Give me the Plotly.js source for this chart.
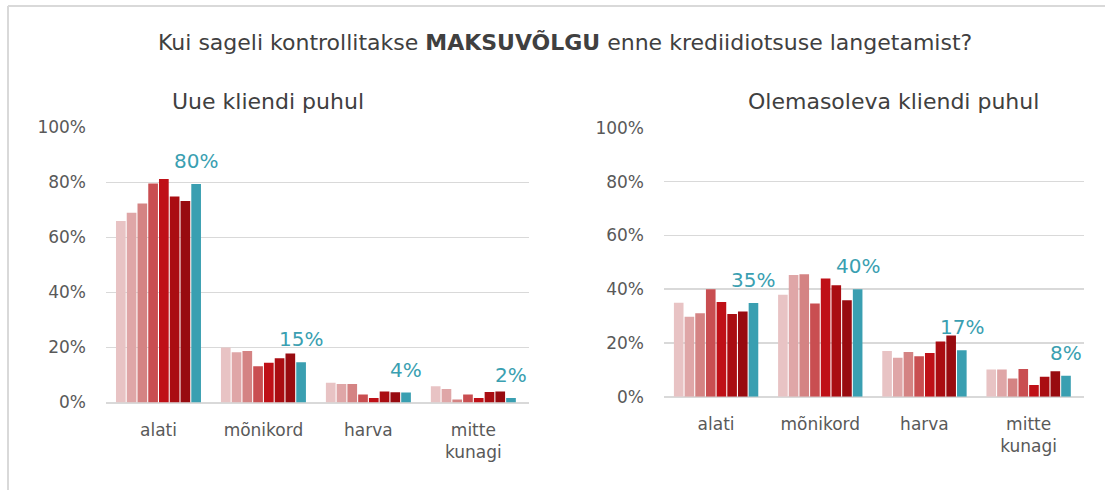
<!DOCTYPE html>
<html>
<head>
<meta charset="utf-8">
<script src="https://cdn.plot.ly/plotly-3.0.1.min.js"></script>
<style>html,body{margin:0;padding:0;background:#fff;}#chart{width:1105px;height:490px;}</style>
</head>
<body>
<div id="chart"></div>
<script>
// ---- data ----
const categories = ['alati', 'mõnikord', 'harva', 'mitte<br>kunagi'];
const seriesNames = ['S1', 'S2', 'S3', 'S4', 'S5', 'S6', 'S7', 'S8'];
// Uue kliendi puhul (new client), % per category
const newClient = [
  [66, 20, 7.2, 5.9],
  [69, 18.3, 6.7, 4.9],
  [72.4, 18.7, 6.7, 1.1],
  [79.6, 13.2, 2.9, 2.9],
  [81.3, 14.5, 1.6, 1.6],
  [74.9, 16.1, 4.0, 3.8],
  [73.3, 17.8, 3.7, 4.0],
  [79.5, 14.6, 3.6, 1.6]
];
// Olemasoleva kliendi puhul (existing client)
const existingClient = [
  [35.0, 37.9, 17.0, 10.1],
  [29.8, 45.3, 14.5, 10.1],
  [31.1, 45.6, 16.6, 6.8],
  [40.0, 34.7, 15.1, 10.3],
  [35.2, 44.0, 16.3, 4.4],
  [30.8, 41.5, 20.5, 7.4],
  [31.7, 35.9, 22.8, 9.5],
  [34.9, 40.0, 17.3, 7.8]
];
const colors = ['#E8C3C4', '#DFA6A7', '#D48383', '#C94E51', '#BF1017', '#AA0D12', '#980B10', '#3A9FB1'];
const mainTitle = 'Kui sageli kontrollitakse <b>MAKSUVÕLGU</b> enne krediidiotsuse langetamist?';
const subTitles = ['Uue kliendi puhul', 'Olemasoleva kliendi puhul'];

// ---- figure ----
const W = 1105, H = 490;
const FONT = 'DejaVu Sans, sans-serif';
const txtColor = '#595959';
const bargap = 0.18;
const traces = [];
[newClient, existingClient].forEach((set, p) => {
  set.forEach((vals, i) => {
    traces.push({
      type: 'bar', x: categories, y: vals, name: seriesNames[i],
      xaxis: p === 0 ? 'x' : 'x2', yaxis: p === 0 ? 'y' : 'y2',
      marker: {color: colors[i], line: {width: 0}},
      showlegend: false, hoverinfo: 'y'
    });
  });
});

const annotations = [];
const groupW = 1 - bargap;
const tealOffset = -groupW / 2 + (7 + 0.5) * groupW / 8;
[newClient, existingClient].forEach((set, p) => {
  const teal = set[7];
  teal.forEach((v, c) => {
    annotations.push({
      xref: p === 0 ? 'x' : 'x2', yref: p === 0 ? 'y' : 'y2',
      x: c + tealOffset, y: v, text: Math.round(v) + '%',
      showarrow: false, yanchor: 'bottom', yshift: 9,
      font: {family: FONT, size: 20, color: colors[7]}
    });
  });
});
annotations.push({xref: 'paper', yref: 'paper', x: 565 / W, y: 1 - 42 / H, text: mainTitle,
  showarrow: false, xanchor: 'center', yanchor: 'middle', font: {family: FONT, size: 22, color: '#404040'}});
annotations.push({xref: 'paper', yref: 'paper', x: 268 / W, y: 1 - 101 / H, text: subTitles[0],
  showarrow: false, xanchor: 'center', yanchor: 'middle', font: {family: FONT, size: 22, color: '#404040'}});
annotations.push({xref: 'paper', yref: 'paper', x: 893 / W, y: 1 - 101 / H, text: subTitles[1],
  showarrow: false, xanchor: 'center', yanchor: 'middle', font: {family: FONT, size: 22, color: '#404040'}});

const yax = (dom) => ({
  domain: dom, range: [0, 100], dtick: 20, ticksuffix: '%',
  showgrid: true, gridcolor: '#d9d9d9', gridwidth: 1.5,
  zeroline: true, zerolinecolor: '#d9d9d9', zerolinewidth: 2,
  showline: false, ticklabelstandoff: 19,
  tickfont: {family: FONT, size: 17, color: txtColor}, fixedrange: true
});
const xax = (dom, anchor) => ({
  domain: dom, anchor: anchor, type: 'category', showline: false, ticks: '',
  tickfont: {family: FONT, size: 17, color: txtColor}, ticklabelstandoff: 15, fixedrange: true
});

const layout = {
  width: W, height: H, margin: {l: 0, r: 0, t: 0, b: 0},
  paper_bgcolor: '#ffffff', plot_bgcolor: '#ffffff',
  barmode: 'group', bargap: bargap, bargroupgap: 0.1,
  xaxis: xax([106 / W, 529 / W], 'y'),
  yaxis: yax([1 - 402.5 / H, 1 - 127.5 / H]),
  xaxis2: xax([664 / W, 1084 / W], 'y2'),
  yaxis2: Object.assign(yax([1 - 396.7 / H, 1 - 128 / H]), {anchor: 'x2'}),
  annotations: annotations,
  shapes: [
    {type: 'line', xref: 'paper', yref: 'paper', x0: 8 / W, x1: 1.01, y0: 1 - 6 / H, y1: 1 - 6 / H, line: {color: '#d9d9d9', width: 2}},
    {type: 'line', xref: 'paper', yref: 'paper', x0: 8 / W, x1: 8 / W, y0: 1 - 6 / H, y1: -0.01, line: {color: '#d9d9d9', width: 2}}
  ]
};
layout.yaxis.anchor = 'x';
Plotly.newPlot('chart', traces, layout, {displayModeBar: false, staticPlot: true});
</script>
</body>
</html>
